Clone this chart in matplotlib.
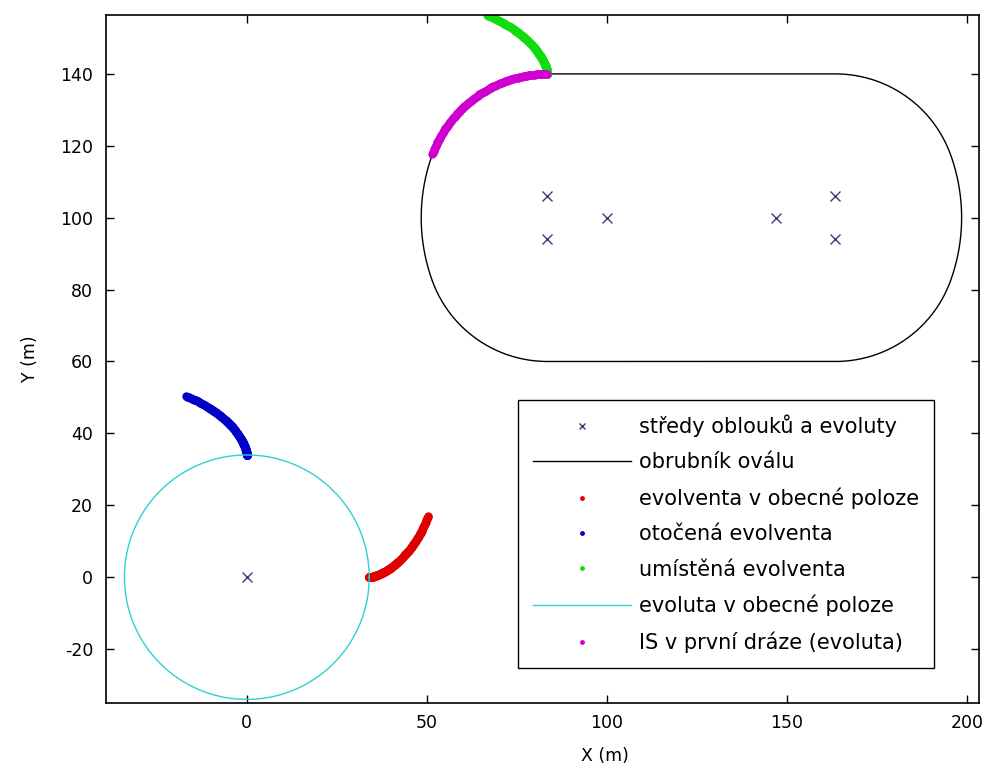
import numpy as np
import matplotlib
matplotlib.use("Agg")
import matplotlib.pyplot as plt

# ---------------- data ----------------
# centres of the oval arcs and of the evolute circle
centers_x = [83.5, 83.5, 100.0, 147.0, 163.5, 163.5, 0.0]
centers_y = [106.0, 94.0, 100.0, 100.0, 106.0, 94.0, 0.0]

# oval kerb: sequence of arcs (centre, radius, start/end angle in degrees)
arc_cx = [83.5, 100.0, 83.5, 163.5, 147.0, 163.5]
arc_cy = [106.0, 100.0, 94.0, 94.0, 100.0, 106.0]
arc_r = [34.0, 51.56, 34.0, 34.0, 51.56, 34.0]
arc_a0 = [90.0, 160.0, 200.0, 270.0, 340.0, 20.0]
arc_a1 = [160.0, 200.0, 270.0, 340.0, 380.0, 90.0]

# evolute (circle) in general position
evolute_cx, evolute_cy, evolute_r = 0.0, 0.0, 34.0
# involute parameter range
inv_t_max = 1.2
# placement of the involute
place_dx, place_dy = 83.5, 106.0
# IS arc in first lane (part of evolute)
is_cx, is_cy, is_r, is_a0, is_a1 = 83.5, 106.0, 34.0, 90.0, 160.0

labels = ["středy oblouků a evoluty", "obrubník oválu", "evolventa v obecné poloze",
          "otočená evolventa", "umístěná evolventa", "evoluta v obecné poloze",
          "IS v první dráze (evoluta)"]

xticks = [0, 50, 100, 150, 200]
yticks = [-20, 0, 20, 40, 60, 80, 100, 120, 140]

# ---------------- geometry ----------------
ox, oy = [], []
for cx, cy, r, a0, a1 in zip(arc_cx, arc_cy, arc_r, arc_a0, arc_a1):
    a = np.radians(np.linspace(a0, a1, 80))
    ox.extend(cx + r * np.cos(a))
    oy.extend(cy + r * np.sin(a))
ox.append(ox[0]); oy.append(oy[0])

t = np.linspace(0, inv_t_max, 160)
ev_x = evolute_cx + evolute_r * (np.cos(t) + t * np.sin(t))
ev_y = evolute_cy + evolute_r * (np.sin(t) - t * np.cos(t))
rot_x, rot_y = -ev_y, ev_x
pl_x, pl_y = rot_x + place_dx, rot_y + place_dy

c = np.linspace(0, 2 * np.pi, 400)
circ_x = evolute_cx + evolute_r * np.cos(c)
circ_y = evolute_cy + evolute_r * np.sin(c)

ai = np.radians(np.linspace(is_a0, is_a1, 140))
is_x = is_cx + is_r * np.cos(ai)
is_y = is_cy + is_r * np.sin(ai)

# ---------------- plot ----------------
plt.rcParams['font.family'] = ['DejaVu Sans']
plt.rcParams['axes.unicode_minus'] = False
fig = plt.figure(figsize=(9.87, 7.74), dpi=100)
ax = fig.add_axes([105.7 / 987, 1 - 703 / 774, 873 / 987, 687.7 / 774])

ms = 6.0
h1, = ax.plot(centers_x, centers_y, 'x', color='#3c3c78', ms=6.5, mew=1.0, ls='none')
h2, = ax.plot(ox, oy, '-', color='black', lw=1.0)
h3, = ax.plot(ev_x, ev_y, 'o', color='#e00000', ms=ms, mew=0, ls='none')
h4, = ax.plot(rot_x, rot_y, 'o', color='#0000c8', ms=ms, mew=0, ls='none')
h5, = ax.plot(pl_x, pl_y, 'o', color='#10dc10', ms=ms, mew=0, ls='none')
h6, = ax.plot(circ_x, circ_y, '-', color='#30d0d0', lw=1.0)
h7, = ax.plot(is_x, is_y, 'o', color='#d000d0', ms=ms, mew=0, ls='none')

ax.set_xlim(-39.2, 203.3)
ax.set_ylim(-35.0, 156.3)
ax.set_xticks(xticks)
ax.set_yticks(yticks)
ax.tick_params(direction='in', length=6, width=1, top=True, right=True,
               labelsize=12.5, colors='black')
ax.tick_params(axis='x', pad=8)
ax.tick_params(axis='y', pad=9)
for s in ax.spines.values():
    s.set_linewidth(1.2)

ax.set_xlabel("X (m)", fontsize=12.5)
ax.set_ylabel("Y (m)", fontsize=12.5)
ax.xaxis.set_label_coords(0.572, -0.064)
ax.yaxis.set_label_coords(-0.076, 0.5)

leg = ax.legend([h1, h2, h3, h4, h5, h6, h7], labels, loc='lower right',
                bbox_to_anchor=(0.9488, 0.0509), borderaxespad=0,
                fontsize=15, frameon=True, fancybox=False, framealpha=1,
                edgecolor='black', handlelength=4.7, handletextpad=0.38,
                labelspacing=0.73, borderpad=0.72)
leg.get_frame().set_linewidth(1.0)
for h in leg.legend_handles:
    try:
        if h.get_marker() == 'o':
            h.set_markersize(3.5)
        elif h.get_marker() == 'x':
            h.set_markersize(5)
    except Exception:
        pass

fig.savefig("out.png", dpi=100)
